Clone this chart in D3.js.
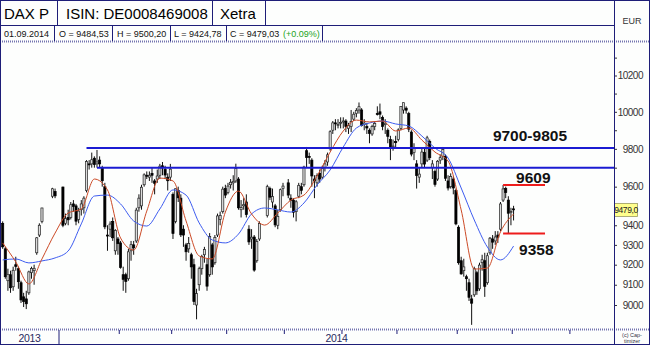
<!DOCTYPE html>
<html>
<head>
<meta charset="utf-8">
<script src="https://cdn.jsdelivr.net/npm/d3@7"></script>
<style>
html, body { margin: 0; padding: 0; background: #fff; }
svg { display: block; font-family: "Liberation Sans", Arial, sans-serif; }
</style>
</head>
<body>
<svg id="chart" width="650" height="345"></svg>
<script>
// ---- data (DAX P, Xetra, daily) ----
var startDay = "2013-12-02";
var endDay = "2014-11-01";
var lastDay = "2014-09-01";
var holidays = ["2013-12-24", "2013-12-25", "2013-12-26", "2013-12-31", "2014-01-01",
    "2014-04-18", "2014-04-21", "2014-05-01"];

var open = [
    9410, 9280, 9120, 9150, 9090, 9200, 9180, 9110, 9040, 9030, 9060, 9160, 9170, 9260, 9350, 9420, 9550, 9575,
    9598, 9410, 9440, 9440, 9510, 9500, 9430, 9480, 9490, 9580, 9720, 9720, 9750, 9720, 9740, 9700, 9600, 9350, 9380, 9420, 9270, 9330,
    9310, 9150, 9150, 9130, 9270, 9300, 9320, 9490, 9500, 9610, 9660, 9650, 9670, 9630, 9640, 9660, 9710, 9690, 9650, 9650,
    9560, 9420, 9580, 9540, 9380, 9300, 9280, 9250, 9200, 9000, 9100, 9180, 9250, 9200, 9150, 9300, 9210, 9350, 9430, 9470, 9590,
    9570, 9610, 9620, 9630, 9640, 9480, 9500, 9520, 9380, 9330, 9340, 9220, 9330, 9450, 9590, 9520, 9500, 9400, 9480, 9590,
    9620, 9540, 9530, 9470, 9550, 9600, 9610, 9790, 9760, 9740, 9640, 9620, 9670, 9650, 9700, 9730, 9800, 9900, 9940, 9930, 9940,
    9950, 9950, 9910, 9920, 9960, 9990, 10010, 10010, 9930, 9920, 9900, 9880, 9920, 9990, 10000, 9970, 9930, 9900, 9850, 9810, 9840,
    9850, 9910, 10010, 10020, 9990, 9890, 9780, 9720, 9650, 9720, 9780, 9740, 9840, 9700, 9680, 9640, 9740, 9760, 9760, 9630, 9600, 9640, 9580,
    9390, 9220, 9170, 9140, 9110, 9030, 9050, 9160, 9080, 9210, 9220, 9110, 9260, 9330, 9320, 9350, 9380, 9530, 9590, 9530, 9470,
    9484.53
];
var high = [
    9420, 9290, 9180, 9170, 9190, 9240, 9190, 9120, 9060, 9070, 9170, 9190, 9200, 9340, 9410, 9490, 9594, 9590,
    9600, 9460, 9480, 9520, 9530, 9510, 9490, 9530, 9550, 9740, 9740, 9780, 9760, 9794, 9760, 9710, 9620, 9400, 9420, 9440, 9380, 9340,
    9320, 9190, 9160, 9280, 9320, 9320, 9490, 9560, 9610, 9670, 9680, 9680, 9700, 9640, 9690, 9720, 9730, 9710, 9670, 9720,
    9570, 9590, 9600, 9560, 9400, 9310, 9340, 9260, 9230, 9080, 9190, 9250, 9290, 9230, 9360, 9310, 9350, 9460, 9470, 9600, 9610,
    9620, 9640, 9660, 9721, 9650, 9530, 9540, 9560, 9400, 9380, 9350, 9330, 9420, 9610, 9600, 9590, 9510, 9480, 9590, 9620,
    9640, 9560, 9540, 9530, 9620, 9620, 9710, 9810, 9780, 9750, 9660, 9670, 9690, 9710, 9740, 9780, 9900, 9950, 9960, 9960, 9970,
    9970, 9960, 9940, 10010, 10000, 10020, 10051, 10020, 9960, 9940, 9910, 9930, 9950, 10030, 10045, 9980, 9960, 9910, 9870, 9850, 9870,
    9910, 10030, 10050, 10030, 10000, 9900, 9830, 9740, 9700, 9800, 9800, 9870, 9850, 9740, 9690, 9740, 9770, 9810, 9770, 9660, 9670, 9650, 9590,
    9400, 9240, 9230, 9150, 9130, 9050, 9190, 9170, 9210, 9250, 9260, 9260, 9340, 9350, 9370, 9370, 9520, 9609, 9600, 9550, 9490,
    9500.20
];
var low = [
    9280, 9130, 9070, 9060, 9070, 9170, 9080, 9010, 8990, 8980, 9050, 9130, 9100, 9250, 9340, 9410, 9540, 9540,
    9390, 9400, 9400, 9430, 9470, 9400, 9410, 9450, 9460, 9570, 9690, 9700, 9700, 9700, 9700, 9600, 9380, 9270, 9340, 9320, 9250, 9250,
    9180, 9070, 9060, 9120, 9220, 9250, 9310, 9470, 9480, 9600, 9640, 9630, 9620, 9560, 9620, 9640, 9660, 9640, 9580, 9630,
    9330, 9410, 9520, 9340, 9290, 9220, 9260, 9130, 9000, 8930, 9070, 9150, 9210, 9070, 9140, 9150, 9200, 9340, 9400, 9460, 9540,
    9560, 9590, 9580, 9620, 9480, 9440, 9480, 9440, 9300, 9280, 9165, 9210, 9320, 9440, 9530, 9490, 9390, 9380, 9470, 9550,
    9540, 9490, 9440, 9420, 9540, 9560, 9600, 9700, 9720, 9600, 9540, 9600, 9620, 9640, 9680, 9710, 9790, 9880, 9900, 9910, 9910,
    9910, 9890, 9880, 9890, 9950, 9970, 9990, 9920, 9900, 9880, 9830, 9870, 9900, 9980, 9960, 9900, 9880, 9830, 9740, 9790, 9800,
    9840, 9900, 9990, 9990, 9890, 9760, 9740, 9590, 9620, 9700, 9700, 9730, 9740, 9640, 9600, 9630, 9720, 9740, 9630, 9580, 9590, 9560, 9400,
    9200, 9150, 9140, 9070, 9020, 8903, 9040, 9050, 9070, 9170, 9040, 9100, 9250, 9280, 9300, 9310, 9370, 9520, 9540, 9358, 9400,
    9424.78
];
var close = [
    9290, 9140, 9150, 9085, 9172, 9191, 9115, 9025, 9017, 9006, 9164, 9181, 9182, 9336, 9400, 9489, 9589, 9552,
    9400, 9435, 9428, 9506, 9497, 9421, 9473, 9510, 9540, 9733, 9717, 9742, 9716, 9730, 9720, 9631, 9392, 9349, 9406, 9336, 9374, 9306,
    9186, 9127, 9116, 9265, 9301, 9285, 9478, 9540, 9597, 9662, 9656, 9660, 9660, 9618, 9656, 9708, 9699, 9661, 9631, 9692,
    9358, 9589, 9542, 9351, 9350, 9265, 9307, 9189, 9017, 9056, 9180, 9242, 9277, 9093, 9342, 9189, 9338, 9448, 9451, 9587, 9556,
    9603, 9623, 9628, 9695, 9490, 9491, 9506, 9455, 9315, 9339, 9173, 9317, 9409, 9600, 9545, 9548, 9402, 9446, 9584, 9603,
    9556, 9529, 9467, 9521, 9607, 9581, 9703, 9754, 9755, 9656, 9630, 9659, 9640, 9697, 9720, 9768, 9892, 9940, 9939, 9932, 9943,
    9950, 9920, 9926, 9947, 9987, 10008, 10028, 9925, 9939, 9912, 9883, 9920, 9937, 9987, 9987, 9920, 9938, 9867, 9805, 9815, 9833,
    9902, 10029, 10050, 10009, 9906, 9772, 9808, 9659, 9666, 9783, 9719, 9859, 9753, 9720, 9612, 9734, 9753, 9797, 9644, 9593, 9653, 9593, 9407,
    9210, 9154, 9189, 9130, 9038, 9009, 9180, 9070, 9198, 9225, 9092, 9245, 9334, 9314, 9340, 9339, 9510, 9588, 9569, 9462, 9470.17,
    9479.03
];

// moving averages at every 5th weekday slot
var maStep = 5;
var maShort = [9310, 9214, 9104, 9229, 9360, 9463, 9484, 9640, 9583, 9335, 9274, 9473, 9645, 9630, 9422, 9244,
    9229, 9468, 9577, 9458, 9401, 9463, 9530, 9556, 9656, 9783, 9896, 9955, 9945, 9950, 9896, 9912,
    9847, 9783, 9735, 9479, 9178, 9183, 9366, 9458];
var maLong = [9224, 9229, 9209, 9219, 9234, 9269, 9407, 9551, 9556, 9510, 9422, 9396, 9484, 9583, 9556, 9412,
    9325, 9310, 9355, 9458, 9489, 9479, 9468, 9515, 9609, 9688, 9810, 9912, 9939, 9950, 9934, 9923,
    9869, 9804, 9751, 9593, 9427, 9289, 9224, 9294];

// chart marks
var resistLevels = [9805, 9700];
var resistFrom = ["2014-01-15", "2014-01-21"];
var supportLevels = [9609, 9358];
var supportFrom = "2014-08-26";
var supportTo = "2014-09-17";

var priceTicks = d3.range(9000, 10400, 100);
var priceLabels = [9000, 9100, 9200, 9300, 9400, 9600, 9800, 10000, 10200];

// ---- layout ----
var W = 650, H = 345;
var plotRight = 614, plotTop = 42, plotBottom = 329;
var navy = "#1e1e78";

var parseDay = d3.utcParse("%Y-%m-%d");
var fmtDay = d3.utcFormat("%Y-%m-%d");

var slots = d3.utcDay.range(parseDay(startDay), parseDay(endDay))
    .filter(function(d) { return d.getUTCDay() % 6 != 0; })
    .map(fmtDay);
var days = slots.filter(function(d) { return d <= lastDay && holidays.indexOf(d) < 0; });

var x = d3.scaleBand().domain(slots).range([1.36, 1.36 + slots.length * 2.62]);
function cx(d) { return x(d) + x.bandwidth() / 2; }
var y = d3.scaleLog().domain([9000, 10200]).range([305, 75.5]);

var candles = days.map(function(d, i) {
    return { day: d, o: open[i], h: high[i], l: low[i], c: close[i] };
});

var svg = d3.select("#chart");
svg.append("rect").attr("width", W).attr("height", H).attr("fill", "#fdfefd");

svg.append("clipPath").attr("id", "plotClip")
    .append("rect").attr("x", 1).attr("y", plotTop).attr("width", plotRight - 1).attr("height", plotBottom - plotTop);

var plot = svg.append("g").attr("clip-path", "url(#plotClip)");

// candles
var cg = plot.append("g");
cg.selectAll("line.wick").data(candles).enter().append("line")
    .attr("class", "wick")
    .attr("x1", function(d) { return cx(d.day); })
    .attr("x2", function(d) { return cx(d.day); })
    .attr("y1", function(d) { return y(d.h); })
    .attr("y2", function(d) { return y(d.l); })
    .attr("stroke", "#111").attr("stroke-width", 1);

var bw = x.bandwidth() * 0.82;
cg.selectAll("rect.body").data(candles).enter().append("rect")
    .attr("class", "body")
    .attr("x", function(d) { return cx(d.day) - bw / 2; })
    .attr("width", bw)
    .attr("y", function(d) { return y(Math.max(d.o, d.c)); })
    .attr("height", function(d) { return Math.max(1, Math.abs(y(d.o) - y(d.c))); })
    .attr("fill", function(d) { return d.c >= d.o ? "#dcdcdc" : "#000"; })
    .attr("stroke", function(d) { return d.c >= d.o ? "#222" : "#000"; })
    .attr("stroke-width", 0.7);

// moving averages
function maPoints(vals) {
    return vals.map(function(v, k) { return [cx(slots[k * maStep]), y(v)]; });
}
var maLine = d3.line().curve(d3.curveMonotoneX);
plot.append("path").attr("d", maLine(maPoints(maLong)))
    .attr("fill", "none").attr("stroke", "#3d5cf0").attr("stroke-width", 1);
plot.append("path").attr("d", maLine(maPoints(maShort)))
    .attr("fill", "none").attr("stroke", "#cc4a26").attr("stroke-width", 1);

// resistance lines
resistLevels.forEach(function(v, i) {
    plot.append("line")
        .attr("x1", cx(resistFrom[i])).attr("x2", plotRight)
        .attr("y1", y(v)).attr("y2", y(v))
        .attr("stroke", "#1b1bd2").attr("stroke-width", 2);
});
// support / target lines
supportLevels.forEach(function(v) {
    plot.append("line")
        .attr("x1", cx(supportFrom)).attr("x2", cx(supportTo))
        .attr("y1", y(v)).attr("y2", y(v))
        .attr("stroke", "#ee1c1c").attr("stroke-width", 2);
});

var boldText = { "font-size": "15.5px", "font-weight": "bold", "fill": "#111" };
function addText(g, txt, xx, yy, attrs) {
    var t = g.append("text").text(txt).attr("x", xx).attr("y", yy);
    for (var k in attrs) t.attr(k, attrs[k]);
    return t;
}
addText(svg, resistLevels[1] + "-" + resistLevels[0], plotRight - 47, y(resistLevels[0]) - 7, boldText)
    .attr("text-anchor", "end");
addText(svg, supportLevels[0], cx(supportFrom) + 13, y(supportLevels[0]) - 2, boldText);
addText(svg, supportLevels[1], cx(supportFrom) + 16, y(supportLevels[1]) + 22, boldText);

// right price axis
var axis = d3.axisRight(y).tickValues(priceTicks).tickSize(3)
    .tickFormat(function(d) { return priceLabels.indexOf(d) >= 0 ? d : ""; });
var ag = svg.append("g").attr("transform", "translate(" + plotRight + ",0)").call(axis);
ag.select(".domain").remove();
ag.selectAll(".tick line").attr("stroke", "#333");
ag.selectAll(".tick text").attr("x", 29).attr("text-anchor", "end")
    .attr("font-family", "Liberation Sans, Arial, sans-serif")
    .attr("font-size", "10px").attr("letter-spacing", "-0.5px").attr("fill", "#333");

// last price marker
var last = candles[candles.length - 1];
var comma = function(v, f) { return d3.format(f)(v).replace(".", ","); };
svg.append("rect").attr("x", plotRight + 0.5).attr("y", y(last.c) - 6.5)
    .attr("width", 23).attr("height", 13)
    .attr("fill", "#ffff8c").attr("stroke", "#9a9a60").attr("stroke-width", 0.8);
addText(svg, comma(last.c, ".1f"), plotRight + 12, y(last.c) + 3,
    { "font-size": "8.5px", "text-anchor": "middle", "letter-spacing": "-0.4px", "fill": "#222" });

// ---- frame ----
function hline(x1, x2, yy, col, sw, dash) {
    var l = svg.append("line").attr("x1", x1).attr("x2", x2).attr("y1", yy).attr("y2", yy)
        .attr("stroke", col).attr("stroke-width", sw || 1);
    if (dash) l.attr("stroke-dasharray", dash);
}
function vline(xx, y1, y2, col, sw) {
    svg.append("line").attr("x1", xx).attr("x2", xx).attr("y1", y1).attr("y2", y2)
        .attr("stroke", col).attr("stroke-width", sw || 1);
}

hline(0, W, 41.5, "#7474b0", 2, "1,1");
hline(0, W, 329.5, "#7474b0", 2, "1,1");
hline(0, plotRight, 25.5, navy);
vline(plotRight + 0.5, 0, H, navy);
[57.5, 212.5, 265.5].forEach(function(v) { vline(v, 0, 25.5, navy); });
[54.5, 112.5, 170.5, 226.5, 322.5].forEach(function(v) { vline(v, 25.5, 41, navy); });
svg.append("rect").attr("x", 0.5).attr("y", 0.5).attr("width", W - 1).attr("height", H - 1)
    .attr("fill", "none").attr("stroke", navy);

// header texts
var big = { "font-size": "15px", "fill": "#000" };
addText(svg, "DAX P", 4, 19, big);
addText(svg, "ISIN: DE0008469008", 66, 19, big);
addText(svg, "Xetra", 220, 19, big);
addText(svg, "EUR", 632, 24, { "font-size": "9px", "fill": "#333", "text-anchor": "middle" });

var prevClose = close[close.length - 2];
var chg = (last.c - prevClose) / prevClose * 100;
var small = { "font-size": "9px", "fill": "#111" };
addText(svg, d3.utcFormat("%d.%m.%Y")(parseDay(last.day)), 4, 36.5, small);
addText(svg, "O = " + comma(last.o, ".2f"), 59, 36.5, small);
addText(svg, "H = " + comma(last.h, ".2f"), 117, 36.5, small);
addText(svg, "L = " + comma(last.l, ".2f"), 174, 36.5, small);
addText(svg, "C = " + comma(last.c, ".2f"), 230, 36.5, small);
addText(svg, "(" + (chg >= 0 ? "+" : "") + d3.format(".2f")(chg) + "%)", 283, 36.5,
    { "font-size": "9px", "fill": "#22a322" });

// ---- time band ----
var yearStart = fmtDay(d3.utcDay.offset(parseDay("2014-01-01"), 0));
var yearX = x(yearStart);
vline(yearX, 330, H, navy);
var monthStarts = d3.utcMonth.range(parseDay("2014-02-01"), parseDay("2014-11-01")).map(function(m) {
    var s = fmtDay(m);
    return slots.find(function(d) { return d >= s; });
});
monthStarts.forEach(function(d) {
    if (x(d) < plotRight) vline(x(d), 330, 334, navy);
});
var yearLab = { "font-size": "10.5px", "fill": "#2a2a60", "text-anchor": "middle", "letter-spacing": "-0.4px" };
addText(svg, "2013", yearX / 2, 342, yearLab);
addText(svg, "2014", (yearX + plotRight) / 2, 342, yearLab);
addText(svg, "(c) Cap-", 632, 336.5, { "font-size": "5.5px", "fill": "#334", "text-anchor": "middle" });
addText(svg, "timizer", 632, 342.5, { "font-size": "5.5px", "fill": "#334", "text-anchor": "middle" });
</script>
</body>
</html>
